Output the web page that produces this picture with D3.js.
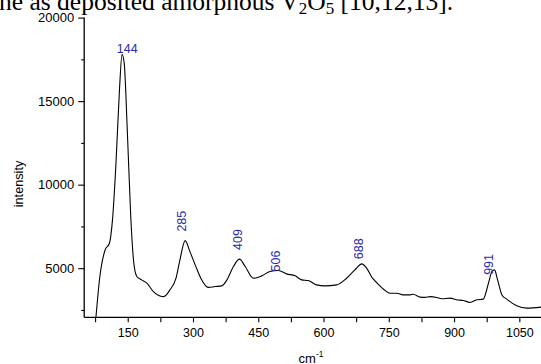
<!DOCTYPE html>
<html>
<head>
<meta charset="utf-8">
<script src="https://cdn.jsdelivr.net/npm/d3@7"></script>
<style>
  html, body { margin: 0; padding: 0; background: #fff; overflow: hidden; }
  svg { display: block; }
</style>
</head>
<body>
<svg id="chart" width="541" height="364"></svg>
<script>
// ---- data ----
const wavenumber = [77, 86, 98, 108, 115, 123, 131, 137, 142, 149, 157, 164, 171, 182, 194, 209, 224, 233, 247, 261, 270, 282, 293, 305, 318, 335, 351, 366, 378, 393, 407, 420, 439, 458, 477, 496, 515, 535, 550, 565, 584, 603, 630, 653, 672, 688, 699, 711, 722, 738, 753, 768, 783, 799, 806, 822, 833, 845, 860, 872, 891, 906, 921, 937, 952, 967, 979, 987, 993, 1000, 1010, 1021, 1044, 1067, 1100];
const intensity  = [2060, 4500, 6090, 6490, 7890, 11270, 15650, 17800, 17260, 13270, 8080, 5300, 4500, 4300, 4100, 3600, 3340, 3300, 3700, 4400, 5500, 6650, 5990, 5200, 4400, 3850, 3900, 3940, 4300, 5100, 5540, 5100, 4400, 4540, 4800, 4860, 4660, 4540, 4300, 4260, 4000, 3940, 4000, 4400, 4900, 5260, 5000, 4460, 4140, 3740, 3500, 3500, 3400, 3400, 3440, 3270, 3250, 3300, 3250, 3170, 3210, 3110, 3070, 2950, 3110, 3150, 4100, 4800, 4900, 4300, 3400, 3150, 2750, 2610, 2670];

const peakLabels = ["144", "285", "409", "506", "688", "991"];
const peakLabelX = [149, 285, 413, 501, 691, 989];
const peakLabelY = [17900, 7190, 6090, 4800, 5540, 4600];
const peakRotated = [false, true, true, true, true, true];

const xTicks = [75, 150, 225, 300, 375, 450, 525, 600, 675, 750, 825, 900, 975, 1050];
const xTickLabels = ["150", "300", "450", "600", "750", "900", "1050"];
const yMajorTicks = [5000, 10000, 15000, 20000];
const yMinorTicks = [2500, 7500, 12500, 17500];

const xTitle = "cm";
const xTitleSup = "-1";
const yTitle = "intensity";
const headerParts = [["ne as deposited amorphous V", 0], ["2", 1], ["O", 0], ["5", 1], [" [10,12,13].", 0]];

// ---- drawing ----
const svg = d3.select("#chart");
const X0 = 84.2, X1 = 541.1, Y0 = 317.3, Y1 = 17.6;
const x = d3.scaleLinear().domain([50, 1100]).range([X0, X1]);
const y = d3.scaleLinear().domain([2060, 20000]).range([Y0, Y1]);
const font = "'Liberation Sans', Arial, Helvetica, sans-serif";

// header text from the paper (partially cropped)
const head = svg.append("text")
  .attr("x", -1).attr("y", 10)
  .attr("font-family", "'Liberation Serif', 'Times New Roman', serif")
  .attr("font-size", 25.5).attr("fill", "#000");
headerParts.forEach(([t, sub], i) => {
  let dy = 0;
  if (sub) dy = 4;
  else if (i > 0 && headerParts[i - 1][1]) dy = -4;
  const ts = head.append("tspan").text(t).attr("dy", dy);
  if (sub) ts.attr("font-size", 17);
});

// y axis (major)
const yAxis = d3.axisLeft(y).tickValues(yMajorTicks).tickSize(6).tickPadding(4).tickFormat(d3.format("d"));
const gy = svg.append("g").attr("transform", `translate(${X0},0)`).call(yAxis);
gy.select(".domain").attr("d", `M-0,${Y1}V${Y0}`);
gy.selectAll(".tick text").attr("font-size", 13);
// minor y ticks
svg.append("g").attr("transform", `translate(${X0},0)`)
  .call(d3.axisLeft(y).tickValues(yMinorTicks).tickSize(3).tickFormat(""))
  .select(".domain").remove();

// x axis
const xAxis = d3.axisBottom(x).tickValues(xTicks).tickSize(5).tickPadding(6)
  .tickFormat(d => xTickLabels.includes(String(d)) ? String(d) : "");
const gx = svg.append("g").attr("transform", `translate(0,${Y0})`).call(xAxis);
gx.select(".domain").attr("d", `M${X0},0H${X1}`);
gx.selectAll(".tick text").attr("font-size", 12.5);

svg.selectAll(".domain").attr("stroke", "#000").attr("stroke-width", 1.3);
svg.selectAll(".tick line").attr("stroke", "#000").attr("stroke-width", 1.1);
svg.selectAll(".tick text").attr("font-family", font).attr("fill", "#000");

// axis titles
const xt = svg.append("text")
  .attr("x", 311).attr("y", 363)
  .attr("text-anchor", "middle")
  .attr("font-family", font).attr("font-size", 13).attr("fill", "#000");
xt.append("tspan").text(xTitle);
xt.append("tspan").text(xTitleSup).attr("font-size", 8.5).attr("dy", -6.5);

svg.append("text")
  .attr("transform", "translate(23,184) rotate(-90)")
  .attr("text-anchor", "middle")
  .attr("font-family", font).attr("font-size", 12.7).attr("fill", "#000")
  .text(yTitle);

// spectrum line
const pts = wavenumber.map((w, i) => [w, intensity[i]]);
svg.append("defs").append("clipPath").attr("id", "plotclip")
  .append("rect").attr("x", X0).attr("y", 0).attr("width", X1 - X0).attr("height", Y0);
svg.append("path")
  .datum(pts)
  .attr("clip-path", "url(#plotclip)")
  .attr("fill", "none")
  .attr("stroke", "#000")
  .attr("stroke-width", 1.1)
  .attr("stroke-linejoin", "round")
  .attr("d", d3.line().x(d => x(d[0])).y(d => y(d[1])).curve(d3.curveMonotoneX));

// peak labels
peakLabels.forEach((lab, i) => {
  const px = x(peakLabelX[i]), py = y(peakLabelY[i]);
  const t = svg.append("text")
    .attr("font-family", font).attr("font-size", 12.5)
    .attr("fill", "#2b2ba6")
    .text(lab);
  if (peakRotated[i]) {
    t.attr("transform", `translate(${px},${py}) rotate(-90)`).attr("text-anchor", "start");
  } else {
    t.attr("x", px).attr("y", py).attr("text-anchor", "middle");
  }
});
</script>
</body>
</html>
